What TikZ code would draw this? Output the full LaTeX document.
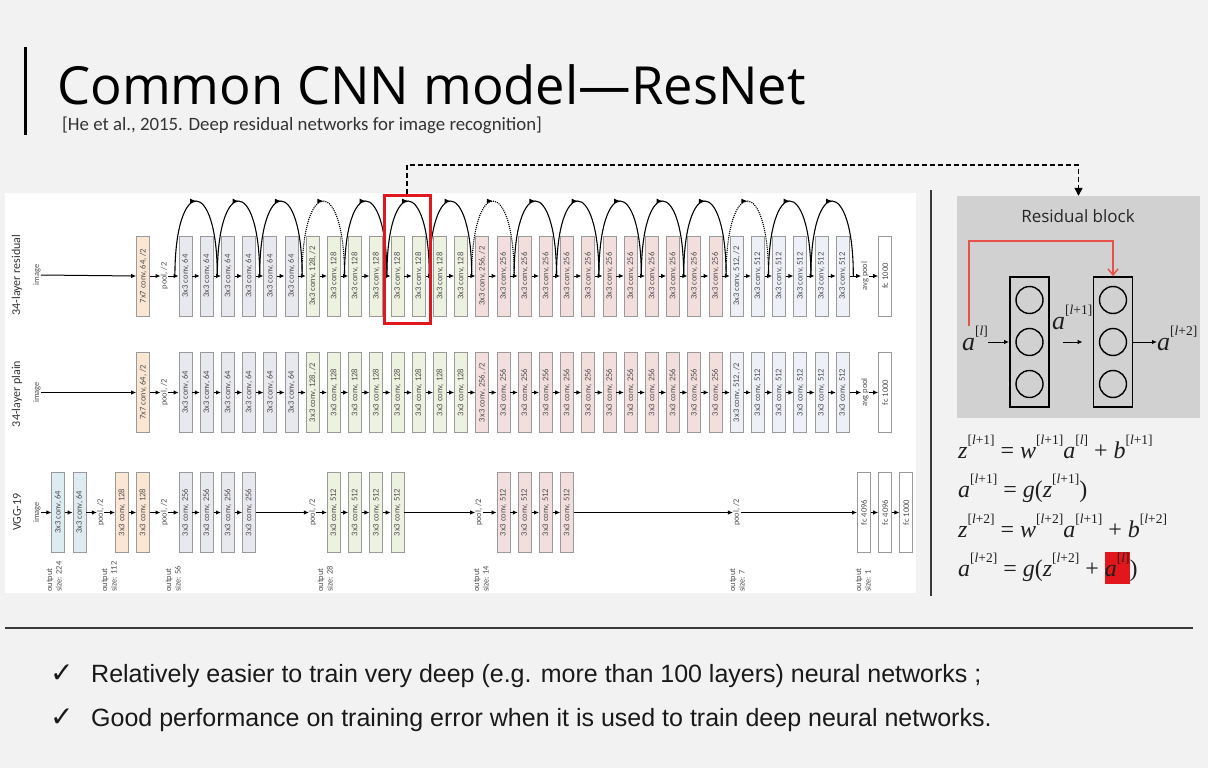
\documentclass[tikz,border=0pt]{standalone}
\usepackage{fontspec}
\setmainfont{Liberation Sans}
\newfontfamily\titlefont{Open Sans}
\newfontfamily\calfont{Carlito}
\newfontfamily\timesfont{Liberation Serif}
\newfontfamily\symfont{DejaVu Sans}
\usetikzlibrary{arrows.meta,decorations.markings,calc}

\definecolor{bg}{HTML}{F2F2F2}
\definecolor{c64}{HTML}{E8E8EF}
\definecolor{c128}{HTML}{ECF1E0}
\definecolor{c256}{HTML}{F3DEDE}
\definecolor{c512}{HTML}{EEF0F7}
\definecolor{c7}{HTML}{FBE6D4}
\definecolor{cblue}{HTML}{DDECF0}
\definecolor{bord}{HTML}{9A9A9A}
\definecolor{btxt}{HTML}{505050}
\definecolor{rbg}{HTML}{D1D1D1}
\definecolor{hlred}{HTML}{E3161C}
\definecolor{boxred}{HTML}{E0181E}
\definecolor{skipred}{HTML}{E8504A}
\definecolor{linegray}{HTML}{3A3A3A}

\newcommand\bl[1]{\rotatebox{90}{#1}}
\newcommand\SUP[1]{\raisebox{0.55em}{\fontsize{13.5}{13.5}\selectfont #1}}
\newcommand\Ll{\textit{l}}
\newcommand\hlbox[1]{{\setlength{\fboxsep}{0pt}\colorbox{hlred}{\rule[-8pt]{0pt}{32pt}#1}}}
\newcommand\outl[1]{\rotatebox{90}{\begin{tabular}{@{}l@{}}output\\size: #1\end{tabular}}}

\begin{document}
\begin{tikzpicture}[x=1pt,y=-1pt,
  blk/.style={draw=bord, line width=0.8pt, minimum width=13pt, minimum height=80pt, inner sep=0pt, font=\calfont\fontsize{8.6}{8.6}\selectfont, text=btxt},
  lbl/.style={inner sep=0pt, font=\calfont\fontsize{8.4}{9.5}\selectfont, text=btxt},
  arr/.style={-{Latex[length=5pt,width=4.5pt]}, line width=1pt, black},
  skiparc/.style={line width=1.1pt, postaction={decorate}, decoration={markings, mark=at position 0.5 with {\arrow{Latex[length=6pt,width=5pt]}}}},
  rowlabel/.style={font=\calfont\fontsize{12}{12}\selectfont, text=black!80},
  eq/.style={anchor=base west, inner sep=0pt, font=\timesfont\fontsize{24}{24}\selectfont, text=black!88},
  neuron/.style={circle, draw, line width=1.4pt, minimum size=27pt, inner sep=0pt},
  layer/.style={draw, line width=1.8pt, minimum width=39pt, minimum height=130pt, inner sep=0pt},
  blab/.style={anchor=base west, inner sep=0pt, font=\timesfont\fontsize{26}{26}\selectfont, text=black!88},
  bullet/.style={anchor=base west, inner sep=0pt, font=\fontsize{25}{25}\selectfont, text=black!90},
  check/.style={anchor=base west, inner sep=0pt, font=\symfont\fontsize{28}{28}\selectfont, text=black!90}
]
\useasboundingbox (0,0) rectangle (1208,768);
\fill[bg] (0,0) rectangle (1208,768);
\fill[white] (5,193) rectangle (916,593);

% title
\draw[line width=3pt] (25,47) -- (25,135);
\node[anchor=base west, inner sep=0pt, font=\titlefont\fontsize{52.5}{52.5}\selectfont] (title) at (57,104) {Common CNN model—ResNet};
\node[anchor=base west, inner sep=0pt, font=\calfont\fontsize{18.8}{18.8}\selectfont, text=black!80] (sub) at (62,130) {[He et al., 2015. Deep residual networks for image recognition]};

% row labels
\node[rowlabel, rotate=90] (lres) at (17,275) {34-layer residual};
\node[rowlabel, rotate=90] (lplain) at (17,394) {34-layer plain};
\node[rowlabel, rotate=90] (lvgg) at (17,512) {VGG-19};

% ---------- residual and plain rows
\node[lbl] (imr) at (37,275) {\bl{image}};
\node[lbl] (imp) at (37,392.5) {\bl{image}};
\node[blk, fill=c7] (rc7) at (143.1,276) {\bl{7x7 conv, 64, /2}};
\node[blk, fill=c7] (pc7) at (143.1,392.5) {\bl{7x7 conv, 64, /2}};
\node[lbl] (rpool) at (164.3,276) {\bl{pool, /2}};
\node[lbl] (ppool) at (164.3,392.5) {\bl{pool, /2}};
\foreach \i in {0,...,31}{
  \ifnum\i<6 \def\bc{c64}\def\bn{64}\else\ifnum\i<14 \def\bc{c128}\def\bn{128}\else\ifnum\i<26 \def\bc{c256}\def\bn{256}\else\def\bc{c512}\def\bn{512}\fi\fi\fi
  \def\bs{}
  \ifnum\i=6 \def\bs{, /2}\fi
  \ifnum\i=14 \def\bs{, /2}\fi
  \ifnum\i=26 \def\bs{, /2}\fi
  \node[blk, fill=\bc] (r\i) at ({185.5+21.2*\i},276) {\bl{3x3 conv, \bn\bs}};
  \node[blk, fill=\bc] (p\i) at ({185.5+21.2*\i},392.5) {\bl{3x3 conv, \bn\bs}};
}
\node[lbl] (ravg) at (865,276) {\bl{avg pool}};
\node[lbl] (pavg) at (865,392.5) {\bl{avg pool}};
\node[blk, fill=white] (rfc) at (885.1,276) {\bl{fc 1000}};
\node[blk, fill=white] (pfc) at (885.1,392.5) {\bl{fc 1000}};

\foreach \a/\b in {imr/rc7, rc7/rpool, rpool/r0, r31/ravg, ravg/rfc, imp/pc7, pc7/ppool, ppool/p0, p31/pavg, pavg/pfc}
  \draw[arr] (\a.east) -- (\b.west);
\foreach \i [evaluate=\i as \j using int(\i+1)] in {0,...,30}{
  \draw[arr] (r\i.east) -- (r\j.west);
  \draw[arr] (p\i.east) -- (p\j.west);
}

% shortcut arcs
\foreach \i in {0,...,32} \coordinate (j\i) at ({185.5+21.2*\i-10.6},276);
\foreach \k [evaluate=\k as \ja using int(2*\k), evaluate=\k as \jb using int(2*\k+2)] in {0,1,2,4,5,6,8,9,10,11,12,14,15}
  \draw[skiparc] (j\ja) .. controls +(0,-100) and +(0,-100) .. (j\jb);
\foreach \k [evaluate=\k as \ja using int(2*\k), evaluate=\k as \jb using int(2*\k+2)] in {3,7,13}
  \draw[skiparc, densely dotted] (j\ja) .. controls +(0,-100) and +(0,-100) .. (j\jb);

% highlight box
\node[draw=boxred, line width=3pt, minimum width=46pt, minimum height=128pt, inner sep=0pt] (hl) at (407,259.5) {};

% ---------- VGG row
\node[lbl] (vim) at (37,512.5) {\bl{image}};
\node[blk, fill=cblue] (v1) at ({185.5-21.2*6},512.5) {\bl{3x3 conv, 64}};
\node[blk, fill=cblue] (v2) at ({185.5-21.2*5},512.5) {\bl{3x3 conv, 64}};
\node[lbl] (vp1) at ({185.5-21.2*4},512.5) {\bl{pool, /2}};
\node[blk, fill=c7] (v3) at ({185.5-21.2*3},512.5) {\bl{3x3 conv, 128}};
\node[blk, fill=c7] (v4) at ({185.5-21.2*2},512.5) {\bl{3x3 conv, 128}};
\node[lbl] (vp2) at (164.3,512.5) {\bl{pool, /2}};
\foreach \i/\n in {0/5,1/6,2/7,3/8}
  \node[blk, fill=c64] (v\n) at ({185.5+21.2*\i},512.5) {\bl{3x3 conv, 256}};
\node[lbl] (vp3) at ({185.5+21.2*6},512.5) {\bl{pool, /2}};
\foreach \i/\n in {7/9,8/10,9/11,10/12}
  \node[blk, fill=c128] (v\n) at ({185.5+21.2*\i},512.5) {\bl{3x3 conv, 512}};
\node[lbl] (vp4) at (479,512.5) {\bl{pool, /2}};
\foreach \i/\n in {15/13,16/14,17/15,18/16}
  \node[blk, fill=c256] (v\n) at ({185.5+21.2*\i},512.5) {\bl{3x3 conv, 512}};
\node[lbl] (vp5) at ({185.5+21.2*26},512.5) {\bl{pool, /2}};
\node[blk, fill=white] (f1) at ({185.5+21.2*32},512.5) {\bl{fc 4096}};
\node[blk, fill=white] (f2) at ({185.5+21.2*33},512.5) {\bl{fc 4096}};
\node[blk, fill=white] (f3) at ({185.5+21.2*34},512.5) {\bl{fc 1000}};
\foreach \a/\b in {vim/v1, v1/v2, v2/vp1, vp1/v3, v3/v4, v4/vp2, vp2/v5, v5/v6, v6/v7, v7/v8, v8/vp3, vp3/v9, v9/v10, v10/v11, v11/v12, v12/vp4, vp4/v13, v13/v14, v14/v15, v15/v16, v16/vp5, vp5/f1, f1/f2, f2/f3}
  \draw[arr] (\a.east) -- (\b.west);

% output size labels
\foreach \x/\s/\n in {55/224/1, 110/112/2, 174/56/3, 326/28/4, 482/14/5, 738/7/6, 864/1/7}
  \node[lbl, anchor=south] (o\n) at (\x,592) {\outl{\s}};

% ---------- separators
\draw[linegray, line width=1.2pt] (931,190) -- (931,596);
\draw[linegray, line width=1.5pt] (5,628) -- (1193,628);

% ---------- residual block
\node[fill=rbg, minimum width=243pt, minimum height=222pt, inner sep=0pt] (rb) at (1078.5,307) {};
\node[font=\titlefont\fontsize{17}{17}\selectfont, text=black!85] (rbt) at (1078,216) {Residual block};
\node[layer] (L1) at (1029.5,342) {};
\node[layer] (L2) at (1113,342) {};
\foreach \y/\n in {300/a,342/b,384/c}{
  \node[neuron] (n1\n) at (1029.5,\y) {};
  \node[neuron] (n2\n) at (1113,\y) {};
}
\node[blab] (al) at (962,350) {\textit{a}\SUP{[\Ll]}};
\node[blab] (al1) at (1052,329) {\textit{a}\SUP{[\Ll+1]}};
\node[blab] (al2) at (1157,350) {\textit{a}\SUP{[\Ll+2]}};
\draw[arr] (al.east |- L1.west) -- (L1.west);
\draw[arr] ([xshift=13pt]L1.east) -- ([xshift=-10pt]L2.west);
\draw[arr] (L2.east) -- (al2.west |- L2.east);
\draw[skipred, line width=1.5pt, -{Straight Barb[length=6pt,width=10pt]}] ([xshift=-6pt]al.north) -- ++(0,-85) -| (L2.north);

% dashed pointer
\draw[line width=1.3pt, dash pattern=on 5pt off 3pt, -{Triangle[length=8pt,width=8pt]}] (hl.north) -- ++(0,-29) -| (rb.north);

% ---------- equations
\node[eq] (eq1) at (958,458) {\textit{z}\SUP{[\Ll+1]} = \textit{w}\SUP{[\Ll+1]}\textit{a}\SUP{[\Ll]} + \textit{b}\SUP{[\Ll+1]}};
\node[eq] (eq2) at (958,497) {\textit{a}\SUP{[\Ll+1]} = \textit{g}(\textit{z}\SUP{[\Ll+1]})};
\node[eq] (eq3) at (958,537) {\textit{z}\SUP{[\Ll+2]} = \textit{w}\SUP{[\Ll+2]}\textit{a}\SUP{[\Ll+1]} + \textit{b}\SUP{[\Ll+2]}};
\node[eq] (eq4) at (958,576) {\textit{a}\SUP{[\Ll+2]} = \textit{g}(\textit{z}\SUP{[\Ll+2]} + \hlbox{\textit{a}\SUP{[\Ll]}})};

% ---------- bullets
\node[check] (ck1) at (50,682) {✓};
\node[bullet] (t1) at (91,682) {Relatively easier to train very deep (e.g. more than 100 layers) neural networks ;};
\node[check] (ck2) at (50,726) {✓};
\node[bullet] (t2) at (91,726) {Good performance on training error when it is used to train deep neural networks.};
\end{tikzpicture}
\end{document}
